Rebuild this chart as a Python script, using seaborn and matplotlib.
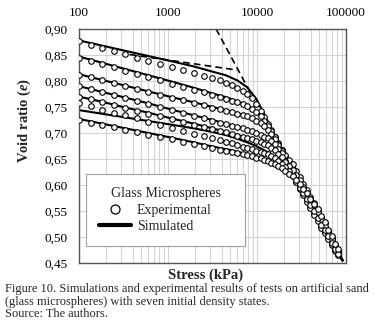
import matplotlib
matplotlib.use("Agg")
import matplotlib.pyplot as plt
import numpy as np
import pandas as pd
import seaborn as sns
from matplotlib.lines import Line2D
from matplotlib.ticker import FixedLocator, FuncFormatter, LogLocator, NullFormatter

# ---------------- data ----------------
stress_exp = [100, 135, 182, 245, 331, 447, 603, 813, 1096, 1479, 1950, 2512, 3162,
              3802, 4467, 5248, 6026, 6918, 7762, 8710, 9772, 10960, 12020,
              13180, 14450, 15850, 17380, 19050, 20890, 22910, 25120, 27540, 30200,
              33110, 36310, 39810, 43650, 47860, 52480, 57540, 63100, 69180, 75860, 81280]

e_exp_1 = [0.876, 0.870, 0.864, 0.858, 0.852, 0.845, 0.839, 0.833, 0.827, 0.821, 0.815, 0.810, 0.806,
           0.801, 0.797, 0.792, 0.787, 0.781, 0.775, 0.767, 0.756, 0.742, 0.730,
           0.718, 0.705, 0.693, 0.680, 0.668, 0.655, 0.643, 0.630, 0.617, 0.605,
           0.592, 0.580, 0.567, 0.555, 0.542, 0.529, 0.517, 0.504, 0.492, 0.479, 0.470]
e_exp_2 = [0.845, 0.839, 0.833, 0.826, 0.820, 0.814, 0.808, 0.801, 0.795, 0.789, 0.783, 0.778, 0.773,
           0.769, 0.766, 0.762, 0.759, 0.756, 0.752, 0.747, 0.741, 0.732, 0.723,
           0.714, 0.703, 0.692, 0.679, 0.668, 0.651, 0.636, 0.622, 0.609, 0.597,
           0.584, 0.572, 0.559, 0.547, 0.534, 0.521, 0.510, 0.498, 0.487, 0.475, 0.467]
e_exp_3 = [0.812, 0.807, 0.801, 0.796, 0.790, 0.785, 0.779, 0.774, 0.768, 0.763, 0.758, 0.753, 0.749,
           0.746, 0.743, 0.740, 0.737, 0.734, 0.732, 0.729, 0.724, 0.719, 0.713,
           0.706, 0.698, 0.688, 0.677, 0.666, 0.657, 0.649, 0.640, 0.627, 0.615,
           0.602, 0.590, 0.577, 0.565, 0.552, 0.539, 0.526, 0.511, 0.498, 0.484, 0.474]
e_exp_4 = [0.790, 0.784, 0.779, 0.773, 0.767, 0.761, 0.756, 0.750, 0.744, 0.739, 0.733, 0.728, 0.724,
           0.720, 0.717, 0.714, 0.712, 0.709, 0.706, 0.704, 0.700, 0.697, 0.693,
           0.690, 0.684, 0.678, 0.670, 0.661, 0.647, 0.634, 0.619, 0.606, 0.593,
           0.580, 0.568, 0.555, 0.543, 0.530, 0.517, 0.507, 0.496, 0.485, 0.473, 0.465]
e_exp_5 = [0.770, 0.765, 0.759, 0.754, 0.748, 0.743, 0.737, 0.732, 0.726, 0.721, 0.716, 0.711, 0.707,
           0.704, 0.701, 0.698, 0.695, 0.693, 0.690, 0.688, 0.685, 0.682, 0.679,
           0.676, 0.671, 0.667, 0.660, 0.653, 0.645, 0.637, 0.629, 0.619, 0.609,
           0.597, 0.585, 0.573, 0.561, 0.548, 0.535, 0.522, 0.508, 0.496, 0.482, 0.472]
e_exp_6 = [0.757, 0.751, 0.745, 0.739, 0.734, 0.728, 0.722, 0.716, 0.710, 0.704, 0.699, 0.694, 0.690,
           0.686, 0.683, 0.680, 0.677, 0.674, 0.671, 0.669, 0.666, 0.663, 0.661,
           0.659, 0.655, 0.651, 0.646, 0.641, 0.634, 0.626, 0.617, 0.606, 0.595,
           0.584, 0.573, 0.561, 0.550, 0.537, 0.524, 0.513, 0.501, 0.489, 0.477, 0.468]
e_exp_7 = [0.725, 0.720, 0.716, 0.711, 0.706, 0.702, 0.697, 0.692, 0.688, 0.683, 0.679, 0.675, 0.671,
           0.668, 0.666, 0.663, 0.661, 0.659, 0.657, 0.655, 0.652, 0.651, 0.648,
           0.646, 0.643, 0.640, 0.636, 0.632, 0.627, 0.622, 0.617, 0.610, 0.602,
           0.593, 0.584, 0.574, 0.564, 0.553, 0.541, 0.528, 0.514, 0.501, 0.486, 0.476]

stress_sim = [100, 182, 331, 603, 1096, 1950, 3162, 4467, 6026, 7762, 9772, 12020,
              14450, 17380, 20890, 25120, 30200, 36310, 43650, 52480, 63100, 75860, 91200]
e_sim_1 = [0.878, 0.868, 0.858, 0.848, 0.838, 0.828, 0.818, 0.811, 0.801, 0.788, 0.766, 0.737,
           0.709, 0.683, 0.657, 0.632, 0.606, 0.581, 0.556, 0.530, 0.505, 0.480, 0.455]
e_sim_2 = [0.847, 0.835, 0.823, 0.811, 0.799, 0.787, 0.776, 0.769, 0.761, 0.753, 0.742, 0.724,
           0.703, 0.680, 0.655, 0.630, 0.605, 0.580, 0.555, 0.530, 0.505, 0.480, 0.455]
e_sim_3 = [0.813, 0.802, 0.791, 0.780, 0.769, 0.759, 0.750, 0.744, 0.738, 0.733, 0.725, 0.714,
           0.699, 0.678, 0.655, 0.630, 0.605, 0.580, 0.555, 0.530, 0.505, 0.480, 0.455]
e_sim_4 = [0.790, 0.779, 0.768, 0.757, 0.745, 0.734, 0.725, 0.718, 0.712, 0.707, 0.701, 0.694,
           0.685, 0.670, 0.651, 0.629, 0.604, 0.579, 0.554, 0.530, 0.505, 0.480, 0.455]
e_sim_5 = [0.770, 0.760, 0.749, 0.739, 0.728, 0.718, 0.709, 0.702, 0.696, 0.691, 0.686, 0.680,
           0.672, 0.661, 0.646, 0.626, 0.604, 0.579, 0.554, 0.530, 0.505, 0.480, 0.455]
e_sim_6 = [0.744, 0.737, 0.730, 0.723, 0.716, 0.709, 0.702, 0.696, 0.689, 0.682, 0.675, 0.667,
           0.659, 0.648, 0.635, 0.619, 0.600, 0.578, 0.554, 0.530, 0.505, 0.480, 0.455]
e_sim_7 = [0.727, 0.718, 0.709, 0.700, 0.691, 0.682, 0.674, 0.669, 0.664, 0.659, 0.654, 0.649,
           0.643, 0.636, 0.627, 0.614, 0.597, 0.576, 0.553, 0.529, 0.505, 0.480, 0.455]

dash_a_stress = [370, 6000]
dash_a_e = [0.851, 0.821]
dash_b_stress = [3470, 9100]
dash_b_e = [0.900, 0.767]

x_ticks = [100, 1000, 10000, 100000]
x_tick_labels = ["100", "1000", "10000", "100000"]
y_ticks = [0.45, 0.50, 0.55, 0.60, 0.65, 0.70, 0.75, 0.80, 0.85, 0.90]

exp_sets = [e_exp_1, e_exp_2, e_exp_3, e_exp_4, e_exp_5, e_exp_6, e_exp_7]
sim_sets = [e_sim_1, e_sim_2, e_sim_3, e_sim_4, e_sim_5, e_sim_6, e_sim_7]

exp_df = pd.concat([pd.DataFrame({"stress": stress_exp, "e": v, "test": i})
                    for i, v in enumerate(exp_sets)], ignore_index=True)
sim_df = pd.concat([pd.DataFrame({"stress": stress_sim, "e": v, "test": i})
                    for i, v in enumerate(sim_sets)], ignore_index=True)

# ---------------- style ----------------
sns.set_theme(style="white")
plt.rcParams["font.family"] = ["Liberation Serif", "DejaVu Serif"]
plt.rcParams["mathtext.fontset"] = "custom"
plt.rcParams["mathtext.it"] = "Liberation Serif:italic:bold"
plt.rcParams["mathtext.rm"] = "Liberation Serif:bold"

fig = plt.figure(figsize=(3.75, 3.3), dpi=100)
fig.patch.set_facecolor("white")
ax = fig.add_axes([79 / 375, 1 - 263 / 330, 267 / 375, 234 / 330])
ax.set_xscale("log")

sns.lineplot(data=sim_df, x="stress", y="e", units="test", estimator=None,
             sort=False, color="black", lw=1.5, ax=ax, zorder=2, legend=False)
sns.lineplot(x=dash_a_stress, y=dash_a_e, color="black", lw=1.2, ax=ax,
             zorder=2.5, legend=False).lines[-1].set_dashes([4, 2.5])
sns.lineplot(x=dash_b_stress, y=dash_b_e, color="black", lw=1.2, ax=ax,
             zorder=2.5, legend=False).lines[-1].set_dashes([4, 2.5])
sns.scatterplot(data=exp_df, x="stress", y="e", marker="o", s=16,
                facecolor="white", edgecolor="black", linewidth=0.8,
                ax=ax, zorder=3, legend=False)

ax.set_xlim(100, 100000)
ax.set_ylim(0.45, 0.90)
ax.xaxis.set_major_locator(FixedLocator(x_ticks))
ax.set_xticklabels(x_tick_labels)
ax.xaxis.set_minor_locator(LogLocator(base=10, subs=range(2, 10)))
ax.xaxis.set_minor_formatter(NullFormatter())
ax.yaxis.set_major_locator(FixedLocator(y_ticks))
ax.yaxis.set_major_formatter(FuncFormatter(lambda v, p: f"{v:.2f}".replace(".", ",")))
ax.xaxis.tick_top()
ax.tick_params(axis="x", which="both", length=0, pad=7, labelsize=9.5, colors="black")
ax.tick_params(axis="y", which="both", length=0, pad=8, labelsize=9.5, colors="black")
ax.grid(which="major", color="#d4d4d4", lw=0.8)
ax.grid(which="minor", axis="x", color="#d4d4d4", lw=0.8)
ax.set_axisbelow(True)
for s in ax.spines.values():
    s.set_color("#555555")
    s.set_linewidth(1.0)

ax.set_xlabel("")
ax.set_ylabel("Void ratio ($\\it{e}$)", fontsize=10.5, fontweight="bold")
ax.yaxis.set_label_coords(-0.172, 0.61)

fig.text(206 / 375, 1 - 275 / 330, "Stress (kPa)", ha="center", va="center",
         fontsize=10.5, fontweight="bold")

handles = [Line2D([], [], marker="o", ls="none", mfc="white", mec="black", ms=6.5, mew=0.9),
           Line2D([], [], color="black", lw=3)]
leg = ax.legend(handles, ["Experimental", "Simulated"], title="Glass Microspheres",
                loc="upper left", bbox_to_anchor=(86 / 375, 1 - 244 / 330, 159 / 375, 70 / 330),
                bbox_transform=fig.transFigure, mode="expand", fontsize=10, title_fontsize=10,
                frameon=True, fancybox=False, handlelength=2.3, handletextpad=0.4,
                borderpad=0.95, labelspacing=0.25, borderaxespad=0)
leg.get_frame().set_edgecolor("#a0a0a0")
leg.get_frame().set_linewidth(0.8)
leg.get_frame().set_facecolor("white")
leg.get_frame().set_alpha(1)

cap = ["Figure 10. Simulations and experimental results of tests on artificial sand",
       "(glass microspheres) with seven initial density states.",
       "Source: The authors."]
for i, t in enumerate(cap):
    fig.text(5 / 375, 1 - (289 + 12.5 * i) / 330, t, ha="left", va="center", fontsize=8.9)

fig.savefig("out.png", dpi=100)
